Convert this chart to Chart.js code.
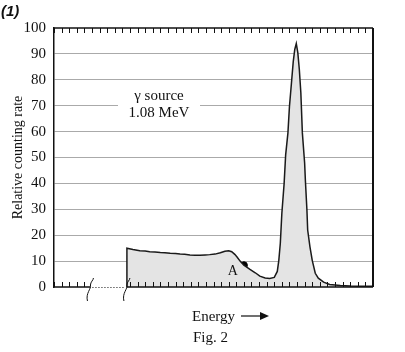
<!DOCTYPE html>
<html>
<head>
<meta charset="utf-8">
<script src="https://cdn.jsdelivr.net/npm/chart.js@4.4.1/dist/chart.umd.min.js"></script>
<style>
  html, body { margin: 0; padding: 0; background: #fff; }
  #wrap { width: 405px; height: 352px; }
</style>
</head>
<body>
<div id="wrap"><canvas id="fig2" width="405" height="352"></canvas></div>
<script>
// channel numbers (energy, arbitrary units 0..420) and relative counting rate
const channels = [96, 96, 104, 113, 120, 126, 133, 140, 146, 153, 160, 166, 172, 179, 186, 192,
  199, 205, 212, 219, 225, 230, 234, 238, 241, 245, 250, 258, 265, 271, 278, 284, 290, 294,
  296, 298, 300, 303, 305, 308, 310, 313, 315, 317, 319, 321, 323, 325, 327, 330, 331, 333,
  334, 337, 340, 344, 348, 355, 363, 377, 390, 405, 420];
const counts = [0, 15.0, 14.5, 14.0, 13.9, 13.6, 13.5, 13.3, 13.2, 13.0, 12.9, 12.7, 12.6, 12.4, 12.3, 12.3,
  12.4, 12.5, 12.7, 13.2, 13.8, 14.0, 13.6, 12.6, 11.6, 10.0, 8.4, 6.8, 5.5, 4.2, 3.5, 3.3, 3.7, 6.0,
  10.3, 17, 28.5, 40, 51, 59.5, 69.7, 80, 87, 91.7, 94, 90.5, 84, 75, 59.5, 47.8, 41, 29.7,
  22, 15.5, 10.3, 5.3, 3.4, 1.9, 1.0, 0.6, 0.4, 0.3, 0.3];
// marked point A on the Compton edge
const pointA = { x: 250, y: 8.4 };
const yTicks = [0, 10, 20, 30, 40, 50, 60, 70, 80, 90, 100];
const xTickStep = 10;
const breakStart = 48;   // axis broken between these channels
const breakEnd = 96;

const serif = '"Liberation Serif", "DejaVu Serif", serif';

const framePlugin = {
  id: 'frame',
  beforeDatasetsDraw(chart) {
    const { ctx } = chart;
    // white label box over the grid
    ctx.save();
    ctx.fillStyle = '#fff';
    ctx.fillRect(118, 86, 82, 36);
    ctx.fillStyle = '#111';
    ctx.font = '15px ' + serif;
    ctx.textAlign = 'center';
    ctx.textBaseline = 'alphabetic';
    ctx.fillText('\u03b3 source', 159, 100);
    ctx.fillText('1.08 MeV', 159, 117);
    ctx.restore();
  },
  afterDraw(chart) {
    const { ctx, chartArea: a, scales: { x, y } } = chart;
    ctx.save();
    ctx.strokeStyle = '#111';
    ctx.lineWidth = 1.5;
    // top and right border
    ctx.beginPath();
    ctx.moveTo(a.left, a.top);
    ctx.lineTo(a.right, a.top);
    ctx.stroke();
    ctx.lineWidth = 2;
    ctx.beginPath();
    ctx.moveTo(a.right, a.top);
    ctx.lineTo(a.right, a.bottom);
    ctx.stroke();
    // top ticks
    ctx.lineWidth = 1;
    for (let v = 0; v <= x.max; v += xTickStep) {
      const px = Math.round(x.getPixelForValue(v)) + 0.5;
      ctx.beginPath();
      ctx.moveTo(px, a.top);
      ctx.lineTo(px, a.top + 5);
      ctx.stroke();
    }
    // bottom axis with a break
    const yb = a.bottom;
    ctx.lineWidth = 1.5;
    ctx.beginPath();
    ctx.moveTo(a.left, yb);
    ctx.lineTo(x.getPixelForValue(breakStart), yb);
    ctx.moveTo(x.getPixelForValue(breakEnd), yb);
    ctx.lineTo(a.right, yb);
    ctx.stroke();
    ctx.lineWidth = 1;
    ctx.setLineDash([1, 2]);
    ctx.beginPath();
    ctx.moveTo(x.getPixelForValue(breakStart) + 2, yb + 0.5);
    ctx.lineTo(x.getPixelForValue(breakEnd) - 2, yb + 0.5);
    ctx.stroke();
    ctx.setLineDash([]);
    for (let v = 0; v <= x.max; v += xTickStep) {
      if (v > breakStart - 5 && v < breakEnd) continue;
      const px = Math.round(x.getPixelForValue(v)) + 0.5;
      ctx.beginPath();
      ctx.moveTo(px, yb);
      ctx.lineTo(px, yb - 5);
      ctx.stroke();
    }
    // break squiggles
    [breakStart, breakEnd].forEach(v => {
      const px = x.getPixelForValue(v);
      ctx.beginPath();
      ctx.moveTo(px - 3, yb + 14);
      ctx.bezierCurveTo(px - 5, yb + 6, px + 1, yb + 2, px, yb - 2);
      ctx.bezierCurveTo(px, yb - 5, px + 3, yb - 7, px + 3, yb - 9);
      ctx.stroke();
    });
    // point A label
    ctx.fillStyle = '#111';
    ctx.font = '14px ' + serif;
    ctx.textAlign = 'center';
    ctx.fillText('A', x.getPixelForValue(pointA.x) - 11, y.getPixelForValue(pointA.y) + 10);
    // axis caption and figure number
    ctx.font = '15px ' + serif;
    ctx.textAlign = 'left';
    ctx.fillText('Energy', 192, 321);
    ctx.fillText('Fig. 2', 193, 342);
    ctx.lineWidth = 1.2;
    ctx.beginPath();
    ctx.moveTo(241, 316);
    ctx.lineTo(262, 316);
    ctx.stroke();
    ctx.beginPath();
    ctx.moveTo(269, 316);
    ctx.lineTo(260, 312);
    ctx.lineTo(260, 320);
    ctx.closePath();
    ctx.fill();
    // panel number
    ctx.font = 'italic bold 15px "Liberation Sans", Arial, sans-serif';
    ctx.fillText('(1)', 1, 16);
    ctx.restore();
  }
};

new Chart(document.getElementById('fig2'), {
  type: 'line',
  data: {
    datasets: [
      {
        label: 'spectrum',
        data: channels.map((c, i) => ({ x: c, y: counts[i] })),
        borderColor: '#1a1a1a',
        borderWidth: 1.5,
        backgroundColor: '#e4e4e4',
        fill: 'origin',
        pointRadius: 0,
        tension: 0
      },
      {
        label: 'A',
        type: 'scatter',
        data: [pointA],
        pointRadius: 3.5,
        pointBackgroundColor: '#000',
        pointBorderColor: '#000'
      }
    ]
  },
  options: {
    responsive: false,
    animation: false,
    layout: { padding: { top: 28, right: 32, left: 0, bottom: 0 } },
    plugins: { legend: { display: false }, tooltip: { enabled: false } },
    scales: {
      x: {
        type: 'linear',
        min: 0,
        max: 420,
        ticks: { display: false },
        grid: { display: false },
        border: { display: false },
        afterFit(scale) { scale.height = 65; }
      },
      y: {
        min: 0,
        max: 100,
        afterBuildTicks(scale) { scale.ticks = yTicks.map(v => ({ value: v })); },
        ticks: { color: '#111', font: { family: serif, size: 15 }, padding: 8 },
        grid: {
          drawTicks: false,
          color: c => (c.tick.value === 0 || c.tick.value === 100) ? 'rgba(0,0,0,0)' : '#aaaaaa',
          lineWidth: 1
        },
        border: { display: true, color: '#111', width: 1.5 },
        title: {
          display: true,
          text: 'Relative counting rate',
          color: '#111',
          font: { family: serif, size: 14 },
          padding: { top: 10, bottom: 0 }
        },
        afterFit(scale) { scale.width = 54; }
      }
    }
  },
  plugins: [framePlugin]
});
</script>
</body>
</html>
